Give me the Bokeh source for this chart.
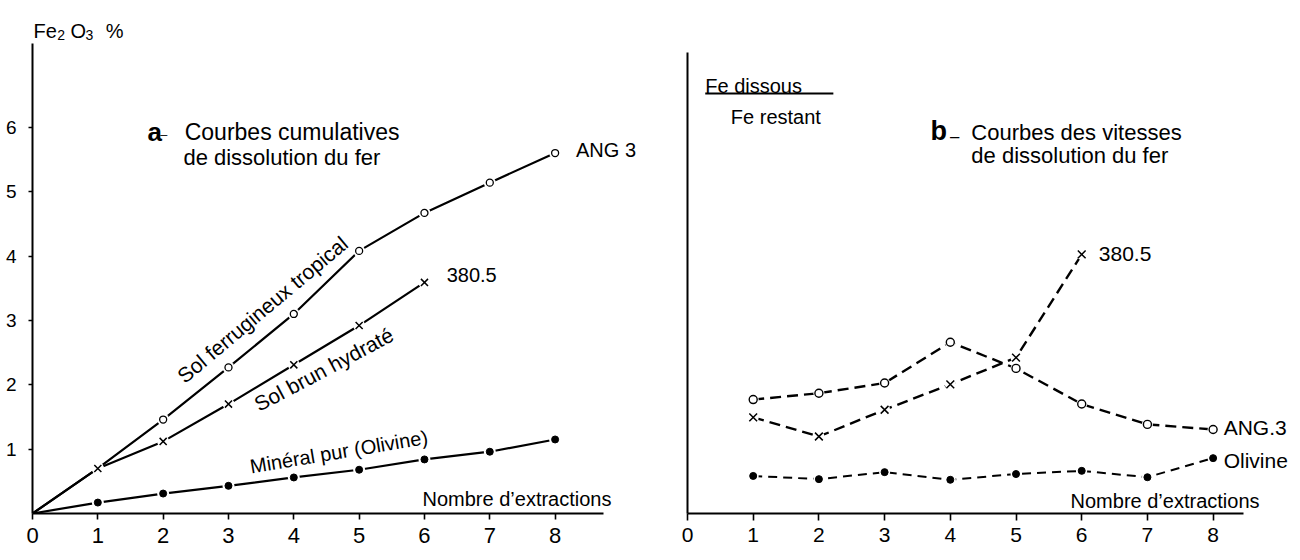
import math
from bokeh.plotting import figure
from bokeh.layouts import row
from bokeh.models import Range1d, FixedTicker, Label, Arrow
from bokeh.embed import file_html
from bokeh.resources import INLINE

FONT = "Liberation Sans"

# ---------------- data : panel a (cumulative Fe2O3 %) ----------------
extractions_a = [0, 1, 2, 3, 4, 5, 6, 7, 8]
ang3_cum = [0.0, 0.70, 1.46, 2.27, 3.10, 4.08, 4.67, 5.14, 5.60]
extractions_3805_a = [0, 1, 2, 3, 4, 5, 6]
s3805_cum = [0.0, 0.70, 1.12, 1.70, 2.31, 2.92, 3.59]
olivine_cum = [0.0, 0.17, 0.31, 0.43, 0.56, 0.68, 0.84, 0.96, 1.15]

# ---------------- data : panel b (dissolution rate, Fe dissous / Fe restant) ----------------
extractions_b = [1, 2, 3, 4, 5, 6, 7, 8]
ang3_rate = [1.79, 1.89, 2.05, 2.69, 2.28, 1.72, 1.40, 1.32]
extractions_3805_b = [1, 2, 3, 4, 5, 6]
s3805_rate = [1.51, 1.21, 1.63, 2.03, 2.45, 4.07]
olivine_rate = [0.59, 0.54, 0.65, 0.53, 0.62, 0.67, 0.57, 0.87]

x_ticks = [0, 1, 2, 3, 4, 5, 6, 7, 8]
y_ticks_a = [1, 2, 3, 4, 5, 6]


def style(p, xbounds, ybounds, yticks, xlab_size, tick_out_x, standoff_x):
    p.grid.visible = False
    p.outline_line_color = None
    p.background_fill_color = "white"
    p.border_fill_color = "white"
    xa = p.xaxis[0]
    xa.ticker = FixedTicker(ticks=x_ticks)
    xa.bounds = xbounds
    xa.axis_line_width = 1.8
    xa.axis_line_color = "black"
    xa.major_tick_out = tick_out_x
    xa.major_tick_in = 0
    xa.minor_tick_line_color = None
    xa.major_tick_line_width = 1.6
    xa.major_label_standoff = standoff_x
    xa.major_label_text_font = FONT
    xa.major_label_text_font_size = xlab_size
    xa.major_label_text_color = "black"
    ya = p.yaxis[0]
    ya.ticker = FixedTicker(ticks=yticks)
    ya.bounds = ybounds
    ya.axis_line_width = 2.0
    ya.axis_line_color = "black"
    ya.major_tick_out = 4
    ya.major_tick_in = 0
    ya.minor_tick_line_color = None
    ya.major_tick_line_width = 1.6
    ya.major_label_standoff = 12
    ya.major_label_text_font = FONT
    ya.major_label_text_font_size = "19px"
    ya.major_label_text_color = "black"


def lab(p, x, y, text, size, angle=0.0, align="left", baseline="alphabetic", bold=False):
    p.add_layout(Label(x=x, y=y, text=text, text_font=FONT, text_font_size=size,
                       text_color="black", angle=math.radians(angle), angle_units="rad",
                       text_align=align, text_baseline=baseline,
                       text_font_style="bold" if bold else "normal"))


# ======================= panel a =======================
p1 = figure(width=650, height=560, output_backend="svg", toolbar_location=None,
            x_range=Range1d(0, 9.46), y_range=Range1d(0, 7.97),
            min_border_left=32, min_border_right=0, min_border_top=0, min_border_bottom=47)
style(p1, (0, 8.74), (0, 7.3), y_ticks_a, "22px", 6, 8)

for xs, ys in [(extractions_a, ang3_cum), (extractions_3805_a, s3805_cum), (extractions_a, olivine_cum)]:
    p1.line(xs, ys, line_color="black", line_width=2.2)
for xs, ys in [(extractions_a, ang3_cum), (extractions_3805_a, s3805_cum), (extractions_a, olivine_cum)]:
    p1.scatter(xs[1:], ys[1:], size=12, fill_color="white", line_color=None)
p1.scatter(extractions_a[2:], ang3_cum[2:], marker="circle", size=7,
           fill_color="white", line_color="black", line_width=1.3)
p1.scatter(extractions_3805_a[1:], s3805_cum[1:], marker="x", size=10,
           line_color="black", line_width=1.5)
p1.scatter(extractions_a[1:], olivine_cum[1:], marker="circle", size=7,
           fill_color="black", line_color="black")

# axis title Fe2 O3 %
lab(p1, 0.015, 7.50, "Fe", "20px")
lab(p1, 0.38, 7.44, "2", "14px")
lab(p1, 0.58, 7.50, "O", "20px")
lab(p1, 0.81, 7.44, "3", "14px")
lab(p1, 1.12, 7.50, "%", "20px")

# panel title
lab(p1, 1.76, 5.92, "a", "26px", bold=True)
lab(p1, 1.96, 5.97, "_", "12px")
lab(p1, 2.33, 5.92, "Courbes cumulatives", "23px")
lab(p1, 2.31, 5.53, "de dissolution du fer", "22px")

# curve labels
lab(p1, 3.52, 3.17, "Sol ferrugineux tropical", "21px", angle=40, align="center", baseline="middle")
lab(p1, 4.46, 2.24, "Sol brun hydraté", "21px", angle=28, align="center", baseline="middle")
lab(p1, 4.69, 0.96, "Minéral pur (Olivine)", "20px", angle=9.5, align="center", baseline="middle")
lab(p1, 8.32, 5.64, "ANG 3", "20px", baseline="middle")
lab(p1, 6.34, 3.70, "380.5", "20px", baseline="middle")
lab(p1, 5.97, 0.23, "Nombre d\u2019extractions", "20px", baseline="middle")

# ======================= panel b =======================
p2 = figure(width=650, height=560, output_backend="svg", toolbar_location=None,
            x_range=Range1d(0, 9.33), y_range=Range1d(0, 8.06),
            min_border_left=37, min_border_right=0, min_border_top=0, min_border_bottom=41)
style(p2, (0, 8.47), (0, 7.25), [], "21px", 7, 7)

p2.line(extractions_b, ang3_rate, line_color="black", line_width=2.4, line_dash="11 6")
p2.line(extractions_3805_b, s3805_rate, line_color="black", line_width=2.4, line_dash="11 6")
p2.line(extractions_b, olivine_rate, line_color="black", line_width=2.0, line_dash="9 6")
for xs, ys in [(extractions_b, ang3_rate), (extractions_3805_b, s3805_rate), (extractions_b, olivine_rate)]:
    p2.scatter(xs, ys, size=11, fill_color="white", line_color=None)
p2.scatter(extractions_b, ang3_rate, marker="circle", size=8,
           fill_color="white", line_color="black", line_width=1.4)
p2.scatter(extractions_3805_b, s3805_rate, marker="x", size=11,
           line_color="black", line_width=1.5)
p2.scatter(extractions_b, olivine_rate, marker="circle", size=7,
           fill_color="black", line_color="black")

# axis title: Fe dissous / Fe restant
lab(p2, 0.27, 6.72, "Fe  dissous", "20px")
p2.add_layout(Arrow(end=None, x_start=0.27, y_start=6.60, x_end=2.22, y_end=6.60,
                    line_color="black", line_width=2))
lab(p2, 0.66, 6.23, "Fe  restant", "20px")

# panel title
lab(p2, 3.70, 6.01, "b", "27px", bold=True)
lab(p2, 4.00, 6.04, "_", "16px")
lab(p2, 4.32, 5.99, "Courbes des vitesses", "22px")
lab(p2, 4.32, 5.62, "de dissolution du fer", "22px")

# curve labels
lab(p2, 6.26, 4.07, "380.5", "21px", baseline="middle")
lab(p2, 8.16, 1.35, "ANG.3", "21px", baseline="middle")
lab(p2, 8.16, 0.84, "Olivine", "21px", baseline="middle")
lab(p2, 5.83, 0.20, "Nombre d\u2019extractions", "20px", baseline="middle")

layout = row(p1, p2)
open("out.html", "w").write(file_html(layout, INLINE))
